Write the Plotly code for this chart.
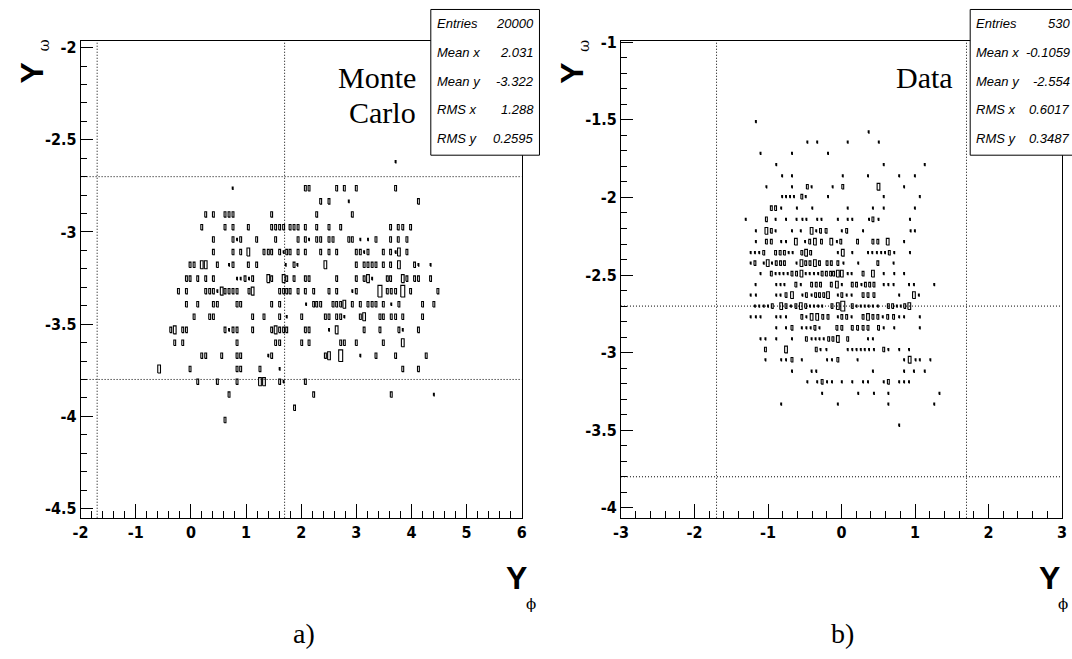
import plotly.graph_objects as go

W, H = 1072, 659

# ---------------- data (bin centres) ----------------
# each row: (y, [x ...], [box size level ...]) ; level 1=dot .. 4=largest box
mc_rows = [
    (-2.619, [3.713], [1]),
    (-2.763, [0.758, 2.076, 2.143, 2.644, 2.783, 3.000, 3.713], [1, 2, 2, 2, 2, 2, 2]),
    (-2.834, [2.354, 2.505, 2.864, 4.127], [2, 2, 1, 2]),
    (-2.905, [0.269, 0.408, 0.619, 0.692, 0.764, 1.465, 2.282, 2.928], [2, 2, 2, 2, 2, 2, 2, 2]),
    (-2.974, [0.197, 0.619, 0.764, 1.042, 1.465, 1.537, 1.610, 1.682, 1.799, 1.871, 1.944, 2.076,
              2.282, 2.505, 2.717, 3.622, 3.761, 3.843, 3.985], [2] * 19),
    (-3.041, [0.408, 0.764, 0.837, 0.903, 1.193, 1.537, 1.944, 2.076, 2.143, 2.282, 2.354, 2.505,
              2.578, 2.864, 2.928, 3.073, 3.212, 3.357, 3.622, 3.761, 3.918],
     [2, 2, 1, 2, 2, 2, 2, 2, 1, 2, 2, 2, 2, 2, 2, 1, 1, 2, 2, 2, 2]),
    (-3.109, [0.408, 0.764, 0.903, 1.042, 1.326, 1.404, 1.465, 1.610, 1.682, 1.738, 1.799, 1.944,
              2.076, 2.354, 2.505, 2.644, 3.000, 3.073, 3.142, 3.212, 3.490, 3.622, 3.713, 3.773, 3.918],
     [2, 2, 2, 3, 2, 2, 2, 2, 1, 2, 2, 2, 2, 2, 2, 2, 2, 2, 1, 2, 2, 2, 1, 3, 2]),
    (-3.178, [-0.015, 0.058, 0.197, 0.269, 0.480, 0.692, 0.764, 1.042, 1.193, 1.720, 1.871, 1.932,
              2.439, 3.000, 3.142, 3.212, 3.287, 3.357, 3.490, 3.622, 3.773, 4.057, 4.127, 4.347],
     [2, 2, 3, 3, 2, 1, 2, 2, 2, 1, 2, 1, 3, 2, 2, 2, 2, 2, 2, 2, 3, 2, 1, 1]),
    (-3.253, [-0.081, -0.015, 0.124, 0.269, 0.408, 0.837, 0.903, 0.982, 1.054, 1.120, 1.404, 1.465,
              1.682, 1.738, 1.871, 2.076, 2.143, 2.644, 3.000, 3.142, 3.212, 3.287, 3.562, 3.622,
              3.843, 3.918, 4.057, 4.127, 4.347],
     [2, 2, 2, 2, 2, 1, 1, 2, 1, 2, 3, 2, 3, 2, 2, 2, 2, 2, 2, 2, 3, 1, 2, 2, 3, 2, 2, 2, 2]),
    (-3.321, [-0.226, -0.081, 0.269, 0.341, 0.408, 0.480, 0.559, 0.619, 0.692, 0.764, 0.837, 1.054,
              1.120, 1.610, 1.682, 1.738, 1.799, 1.944, 2.076, 2.227, 2.505, 2.644, 2.928, 3.000,
              3.429, 3.562, 3.634, 3.713, 3.843, 3.985, 4.480],
     [2, 2, 2, 2, 2, 1, 3, 2, 2, 2, 2, 2, 3, 2, 2, 2, 2, 2, 2, 2, 2, 2, 1, 2, 4, 2, 2, 2, 4, 2, 2]),
    (-3.392, [-0.081, 0.124, 0.408, 0.480, 0.837, 0.903, 1.465, 1.610, 2.089, 2.227, 2.282, 2.354,
              2.578, 2.644, 2.717, 2.783, 2.928, 3.073, 3.212, 3.287, 3.357, 3.490, 3.634, 3.773,
              4.202, 4.407],
     [2, 2, 2, 2, 2, 2, 2, 2, 1, 2, 2, 2, 2, 2, 2, 3, 2, 2, 2, 2, 2, 2, 1, 2, 2, 2]),
    (-3.460, [0.058, 0.341, 0.408, 1.120, 1.326, 1.610, 1.738, 2.010, 2.439, 2.505, 2.644, 2.717,
              2.783, 3.073, 3.142, 3.429, 3.490, 3.634, 3.713, 3.843, 4.202],
     [2, 2, 2, 2, 2, 2, 1, 2, 2, 2, 2, 2, 1, 2, 3, 2, 2, 2, 2, 2, 2]),
    (-3.531, [-0.365, -0.293, -0.148, -0.081, 0.619, 0.692, 0.764, 0.837, 1.120, 1.465, 1.537, 1.610,
              1.682, 1.738, 2.076, 2.143, 2.505, 2.644, 3.142, 3.429, 3.773, 3.843, 4.127],
     [2, 3, 2, 2, 2, 1, 2, 2, 2, 2, 3, 2, 2, 2, 2, 2, 1, 3, 2, 2, 2, 1, 2]),
    (-3.601, [-0.293, -0.148, 0.837, 1.537, 1.610, 2.010, 2.143, 2.717, 2.783, 3.000, 3.490, 3.843],
     [2, 2, 2, 2, 2, 2, 2, 2, 2, 2, 2, 3]),
    (-3.671, [0.197, 0.269, 0.559, 0.837, 0.903, 1.404, 1.465, 2.439, 2.505, 2.717, 3.073, 3.357,
              3.713, 4.268], [2, 2, 2, 2, 2, 1, 2, 2, 3, 4, 1, 2, 2, 2]),
    (-3.743, [-0.576, -0.015, 0.837, 0.903, 1.253, 1.610, 3.843, 4.127], [3, 2, 2, 2, 2, 1, 2, 2]),
    (-3.812, [0.124, 0.480, 0.837, 1.253, 1.326, 1.610, 1.682, 2.076], [2, 2, 2, 3, 3, 2, 1, 2]),
    (-3.882, [0.692, 2.227, 3.634, 4.407], [2, 2, 2, 1]),
    (-3.954, [1.880], [2]),
    (-4.020, [0.619], [2]),
]

data_rows = [
    (-1.511, [-1.165], [1]),
    (-1.578, [0.369], [1]),
    (-1.644, [-0.465, -0.331, 0.084, 0.507], [1, 1, 1, 1]),
    (-1.716, [-1.102, -0.674, -0.184], [1, 1, 1]),
    (-1.789, [-0.888, 0.574, 1.132], [1, 1, 1]),
    (-1.861, [-0.808, -0.674, 0.017, 0.360, 0.784, 0.998], [1] * 6),
    (-1.931, [-1.022, -0.674, -0.465, -0.407, -0.121, 0.017, 0.503, 0.851], [1, 1, 2, 1, 1, 2, 3, 1]),
    (-1.995, [-0.808, -0.755, -0.701, -0.647, -0.540, -0.487, -0.184, 0.574, 1.065],
     [1, 1, 1, 1, 2, 1, 1, 1, 1]),
    (-2.069, [-0.955, -0.897, -0.821, -0.607, -0.398, 0.084, 0.427, 0.574, 0.998],
     [2, 2, 1, 1, 1, 1, 1, 1, 1]),
    (-2.141, [-1.303, -1.022, -0.897, -0.755, -0.612, -0.532, -0.478, -0.331, -0.273, -0.050, 0.084,
              0.146, 0.374, 0.427, 0.503, 0.931], [1, 2, 1, 1, 1, 1, 1, 1, 1, 1, 1, 1, 1, 2, 1, 1]),
    (-2.215, [-1.165, -1.022, -0.955, -0.897, -0.674, -0.554, -0.407, -0.344, -0.286, -0.210, 0.004,
              0.070, 0.293, 0.940, 0.998], [1, 3, 2, 1, 1, 1, 3, 1, 2, 2, 1, 2, 1, 1, 1]),
    (-2.285, [-1.165, -1.022, -0.955, -0.821, -0.755, -0.621, -0.496, -0.433, -0.362, -0.273, -0.139,
              -0.063, -0.010, 0.218, 0.427, 0.494, 0.628, 0.851],
     [1, 2, 2, 1, 1, 3, 1, 2, 3, 2, 3, 1, 2, 2, 2, 2, 3, 1]),
    (-2.356, [-1.236, -1.178, -1.120, -1.058, -0.897, -0.835, -0.777, -0.719, -0.665, -0.540, -0.482,
              -0.420, -0.050, 0.017, 0.146, 0.360, 0.418, 0.481, 0.539, 0.592, 0.650, 0.717, 0.931],
     [1, 1, 1, 2, 2, 2, 2, 1, 1, 2, 3, 2, 1, 3, 1, 1, 1, 1, 1, 1, 2, 1, 1]),
    (-2.423, [-1.236, -1.178, -1.058, -1.004, -0.946, -0.888, -0.830, -0.777, -0.612, -0.545, -0.487,
              -0.429, -0.362, -0.300, -0.197, -0.139, -0.050, 0.026, 0.227, 0.494, 0.708],
     [1, 2, 1, 3, 1, 2, 2, 2, 1, 3, 2, 2, 3, 2, 2, 2, 2, 1, 1, 2, 1]),
    (-2.491, [-1.102, -0.955, -0.897, -0.844, -0.790, -0.732, -0.674, -0.612, -0.545, -0.487, -0.433,
              -0.375, -0.318, -0.264, -0.206, -0.148, -0.108, -0.050, 0.004, 0.084, 0.137, 0.293,
              0.427, 0.574, 0.717, 0.851],
     [1, 2, 1, 1, 1, 1, 2, 2, 3, 1, 1, 1, 1, 2, 2, 2, 2, 3, 3, 1, 1, 2, 3, 1, 1, 1]),
    (-2.562, [-1.169, -0.888, -0.830, -0.777, -0.621, -0.554, -0.407, -0.344, -0.286, -0.139, -0.063,
              0.004, 0.146, 0.204, 0.271, 0.325, 0.383, 0.441, 0.574, 0.637, 0.708, 0.918, 0.985, 1.261],
     [1, 1, 1, 1, 2, 1, 2, 2, 2, 2, 3, 1, 2, 2, 1, 2, 2, 2, 1, 1, 1, 1, 1, 1]),
    (-2.629, [-1.236, -1.165, -0.888, -0.830, -0.755, -0.674, -0.532, -0.478, -0.407, -0.353, -0.300,
              -0.242, -0.184, -0.050, 0.004, 0.070, 0.137, 0.293, 0.360, 0.441, 0.784, 0.985, 1.052],
     [1, 1, 1, 1, 2, 3, 1, 2, 1, 2, 2, 2, 3, 1, 2, 1, 1, 2, 2, 2, 1, 3, 1]),
    (-2.700, [-1.178, -1.120, -1.058, -1.000, -0.942, -0.821, -0.755, -0.688, -0.621, -0.554, -0.487,
              -0.429, -0.375, -0.318, -0.264, -0.130, -0.050, 0.017, 0.146, 0.204, 0.262, 0.316,
              0.369, 0.427, 0.494, 0.637, 0.695, 0.753, 0.806, 0.860, 0.922],
     [1, 1, 1, 1, 2, 3, 2, 1, 2, 3, 2, 1, 1, 1, 1, 2, 3, 4, 2, 1, 1, 1, 1, 1, 1, 2, 2, 1, 1, 2, 3]),
    (-2.770, [-1.236, -1.165, -1.102, -0.888, -0.830, -0.755, -0.540, -0.478, -0.407, -0.331, -0.255,
              -0.184, -0.050, 0.004, 0.070, 0.137, 0.293, 0.360, 0.427, 0.494, 0.561, 0.628, 0.708,
              0.784, 0.851, 1.065],
     [1, 1, 1, 1, 1, 1, 2, 1, 3, 3, 2, 2, 1, 2, 2, 1, 2, 3, 2, 2, 1, 2, 2, 1, 1, 1]),
    (-2.840, [-0.888, -0.755, -0.674, -0.540, -0.478, -0.420, -0.362, -0.300, -0.063, 0.004, 0.146,
              0.218, 0.293, 0.360, 0.503, 0.574, 0.717, 1.065],
     [1, 1, 2, 1, 1, 1, 2, 1, 2, 2, 2, 2, 2, 2, 2, 1, 1, 1]),
    (-2.912, [-1.102, -1.035, -0.888, -0.674, -0.478, -0.407, -0.353, -0.300, -0.242, -0.175, -0.117,
              -0.050, 0.084, 0.360, 0.427], [1, 1, 1, 1, 2, 1, 1, 1, 1, 2, 2, 3, 2, 1, 1]),
    (-2.980, [-1.035, -0.755, -0.344, -0.286, -0.206, 0.084, 0.146, 0.204, 0.262, 0.316, 0.374,
              0.441, 0.574, 0.637, 0.784, 0.918], [2, 3, 2, 1, 1, 1, 1, 1, 1, 1, 1, 1, 2, 1, 1, 1]),
    (-3.046, [-1.035, -0.821, -0.755, -0.674, -0.540, -0.197, -0.130, -0.050, 0.218, 0.851, 0.927,
              1.007, 1.065, 1.208], [1, 1, 1, 2, 1, 1, 1, 2, 1, 1, 3, 1, 1, 1]),
    (-3.120, [-0.674, -0.407, -0.344, 0.427, 0.851, 0.985, 1.132], [1] * 7),
    (-3.188, [-0.465, -0.331, -0.264, -0.197, -0.130, 0.004, 0.146, 0.293, 0.360, 0.574, 0.637,
              0.784, 0.851, 0.918], [1, 1, 2, 1, 1, 1, 1, 1, 1, 1, 2, 1, 1, 1]),
    (-3.262, [-0.264, 0.227, 0.441, 0.637, 1.332], [1] * 5),
    (-3.332, [-0.821, -0.050, 0.637, 1.261], [1] * 4),
    (-3.468, [0.784], [1]),
]

mc_stats = [("Entries", "20000"), ("Mean x", "2.031"), ("Mean y", "-3.322"),
            ("RMS x", "1.288"), ("RMS y", "0.2595")]
data_stats = [("Entries", "530"), ("Mean x", "-0.1059"), ("Mean y", "-2.554"),
              ("RMS x", "0.6017"), ("RMS y", "0.3487")]

x_cuts = [-1.7, 1.7]
y_cuts = [-2.7, -3.8]

mc_xticks = [-2, -1, 0, 1, 2, 3, 4, 5, 6]
mc_yticks = [-4.5, -4, -3.5, -3, -2.5, -2]
data_xticks = [-3, -2, -1, 0, 1, 2, 3]
data_yticks = [-4, -3.5, -3, -2.5, -2, -1.5, -1]

mc_bin = (0.08, 0.07)
data_bin = (0.06, 0.07)
level_scale = {1: 0.2, 2: 0.42, 3: 0.62, 4: 0.9}

# ---------------- helpers ----------------
def outlines(rows, bw, bh):
    xs, ys = [], []
    for y, xl, wl in rows:
        for x, w in zip(xl, wl):
            s = level_scale[w]
            hw, hh = s * bw / 2, s * bh / 2
            xs += [x - hw, x + hw, x + hw, x - hw, x - hw, None]
            ys += [y - hh, y - hh, y + hh, y + hh, y - hh, None]
    return xs, ys


def lab(v):
    return f"<b>{v:g}</b>"


NARROW = "DejaVu Sans Condensed, Liberation Sans Narrow, Liberation Sans, sans-serif"
SANS = "Liberation Sans Narrow, Liberation Sans, sans-serif"
SERIF = "Liberation Serif, DejaVu Serif, serif"

fig = go.Figure()
for rows, b, xa, ya in [(mc_rows, mc_bin, "x", "y"), (data_rows, data_bin, "x2", "y2")]:
    xs, ys = outlines(rows, *b)
    fig.add_trace(go.Scatter(x=xs, y=ys, mode="lines", xaxis=xa, yaxis=ya,
                             line=dict(color="black", width=1.1), hoverinfo="skip",
                             showlegend=False))

ytop, ybot = 33, 516
ydom = [1 - ybot / H, 1 - ytop / H]
tickfont = dict(family=NARROW, size=16, color="black")


def xaxis(dom, rng, vals):
    return dict(domain=dom, range=rng, showline=True, mirror=True, linecolor="black",
                linewidth=1, ticks="inside", ticklen=14, tickwidth=1, tickcolor="black",
                tickmode="array", tickvals=vals, ticktext=[lab(v) for v in vals],
                tickfont=tickfont, showgrid=False, zeroline=False,
                minor=dict(ticks="inside", ticklen=7, dtick=0.2, tick0=0,
                           tickcolor="black", tickwidth=1, showgrid=False))


def yaxis(rng, vals, anchor):
    return dict(domain=ydom, range=rng, anchor=anchor, showline=True, mirror=True,
                linecolor="black", linewidth=1, ticks="inside", ticklen=12, tickwidth=1,
                tickcolor="black", tickmode="array", tickvals=vals,
                ticktext=[lab(v) for v in vals], tickfont=tickfont, showgrid=False,
                zeroline=False,
                minor=dict(ticks="inside", ticklen=6, dtick=0.1, tick0=0,
                           tickcolor="black", tickwidth=1, showgrid=False))


L0, L1 = 73.5, 520
R0, R1 = 620.5, 1067
fig.update_layout(
    width=W, height=H, margin=dict(l=0, r=0, t=0, b=0),
    paper_bgcolor="white", plot_bgcolor="white", showlegend=False,
    xaxis=dict(**xaxis([L0 / W, L1 / W], [-2, 6], mc_xticks), anchor="y"),
    yaxis=yaxis([-4.55, -1.962], mc_yticks, "x"),
    xaxis2=dict(**xaxis([R0 / W, R1 / W], [-3, 3], data_xticks), anchor="y2"),
    yaxis2=yaxis([-4.064, -0.989], data_yticks, "x2"),
)

shapes = []
for xr, yr in [("x", "y"), ("x2", "y2")]:
    for c in x_cuts:
        shapes.append(dict(type="line", xref=xr, yref=yr + " domain", x0=c, x1=c, y0=0, y1=1,
                           line=dict(color="black", width=1, dash="1px,2px"), layer="below"))
    for c in y_cuts:
        shapes.append(dict(type="line", xref=xr + " domain", yref=yr, x0=0, x1=1, y0=c, y1=c,
                           line=dict(color="black", width=1, dash="1px,2px"), layer="below"))

# stats boxes
box_top, box_bot = 1.5, 149
for bx0, bx1 in [(428, 538), (974, 1090)]:
    shapes.append(dict(type="rect", xref="paper", yref="paper", x0=bx0 / W, x1=bx1 / W,
                       y0=1 - box_bot / H, y1=1 - box_top / H, fillcolor="white",
                       line=dict(color="black", width=1), layer="above"))
fig.update_layout(shapes=shapes)

ann = []
stat_font = dict(family=SANS, size=13, color="black", style="italic")
row_y = [16, 45, 74, 103, 132]
for stats, lx, rx in [(mc_stats, 432, 534), (data_stats, 978, 1077)]:
    for (k, v), yy in zip(stats, row_y):
        ann.append(dict(text=k, x=lx / W, y=1 - yy / H, xanchor="left", yanchor="middle",
                        font=stat_font))
        ann.append(dict(text=v, x=rx / W, y=1 - yy / H, xanchor="right", yanchor="middle",
                        font=stat_font))

big = dict(family=SERIF, size=30, color="black")
ann += [
    dict(text="Monte", x=415 / W, y=1 - 70 / H, xanchor="right", yanchor="middle", font=big),
    dict(text="Carlo", x=415 / W, y=1 - 106 / H, xanchor="right", yanchor="middle", font=big),
    dict(text="Data", x=959 / W, y=1 - 70 / H, xanchor="right", yanchor="middle", font=big),
    dict(text="a)", x=300 / W, y=1 - 633 / H, xanchor="center", yanchor="middle",
         font=dict(family=SERIF, size=28, color="black")),
    dict(text="b)", x=845 / W, y=1 - 633 / H, xanchor="center", yanchor="middle",
         font=dict(family=SERIF, size=28, color="black")),
]
Yfont = dict(family=SANS, size=32, color="black", weight="bold")
subfont = dict(family="DejaVu Serif, serif", size=15, color="black")
for f0, f1, dx in [(L0, L1, 0), (R0, R1, -8)]:
    # x axis title  Y_phi
    ann.append(dict(text="Y", x=(f1 - 5 + dx) / W, y=1 - 577 / H, xanchor="center",
                    yanchor="middle", font=Yfont))
    ann.append(dict(text="\u03d5", x=(f1 + 9 + dx) / W, y=1 - 603 / H, xanchor="center",
                    yanchor="middle", font=subfont))
    # y axis title  Y_omega (rotated)
    ann.append(dict(text="Y", x=(f0 - 49) / W, y=1 - 66 / H, xanchor="center",
                    yanchor="middle", textangle=-90, font=Yfont))
    ann.append(dict(text="\u03c9", x=(f0 - 38) / W, y=1 - 38 / H, xanchor="center",
                    yanchor="middle", textangle=-90, font=subfont))

for a in ann:
    a.setdefault("xref", "paper")
    a.setdefault("yref", "paper")
    a["showarrow"] = False
fig.update_layout(annotations=ann)

fig.write_html("out.html")
